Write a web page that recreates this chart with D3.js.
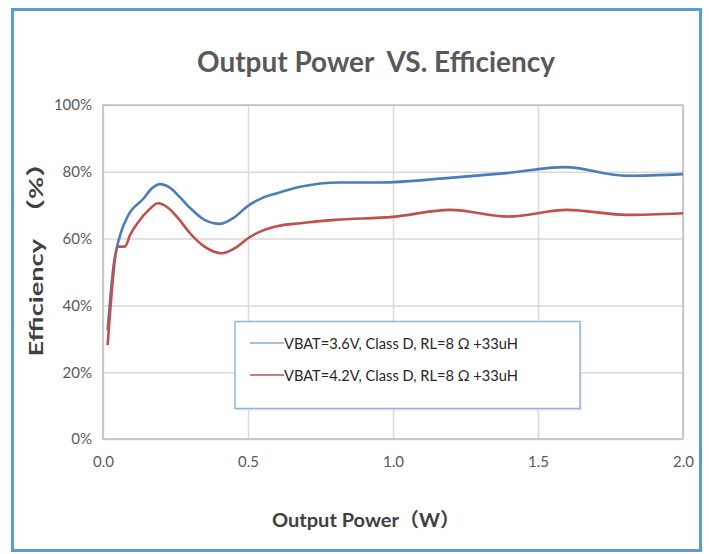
<!DOCTYPE html>
<html>
<head>
<meta charset="utf-8">
<script src="https://cdn.jsdelivr.net/npm/d3@7"></script>
<style>
  body { margin: 0; background: #fff; }
  text { font-family: Lato, "Noto Sans CJK SC", sans-serif; }
</style>
</head>
<body>
<div id="chart"></div>
<script>
// values
var powerBlue = [0.016, 0.036, 0.059, 0.087, 0.14, 0.168, 0.197, 0.23, 0.265, 0.3, 0.35, 0.403, 0.45, 0.5, 0.55, 0.6, 0.68, 0.817, 0.955, 1.185, 1.39, 1.593, 1.806, 2.0];
var effBlue   = [32.6, 51.6, 61.0, 67.0, 72.0, 75.0, 76.3, 75.3, 72.4, 69.2, 65.6, 64.4, 66.2, 69.8, 72.2, 73.6, 75.5, 76.8, 76.8, 78.1, 79.6, 81.4, 78.8, 79.3];

var powerRed = [0.016, 0.053, 0.076, 0.093, 0.122, 0.158, 0.19, 0.222, 0.26, 0.3, 0.35, 0.41, 0.46, 0.5, 0.55, 0.6, 0.68, 0.8, 1.0, 1.197, 1.398, 1.6, 1.806, 2.0];
var effRed   = [28.1, 57.6, 57.6, 61.0, 65.0, 68.6, 70.6, 69.4, 66.0, 61.6, 57.6, 55.6, 57.4, 60.1, 62.4, 63.7, 64.6, 65.6, 66.5, 68.6, 66.6, 68.6, 67.1, 67.6];

var xTicks = [0, 0.5, 1.0, 1.5, 2.0];
var yTicks = [0, 0.2, 0.4, 0.6, 0.8, 1.0];

var seriesNames = ["VBAT=3.6V, Class D, RL=8 Ω +33uH", "VBAT=4.2V, Class D, RL=8 Ω +33uH"];
var seriesColors = ["#4a7ebb", "#c0504d"];

(function() {
  var width = 709, height = 554;

  var svg = d3.select("#chart").append("svg")
    .attr("width", width)
    .attr("height", height);

  // outer frame
  svg.append("rect")
    .attr("x", 12.5).attr("y", 9.5)
    .attr("width", 688).attr("height", 541)
    .attr("fill", "#fff")
    .attr("stroke", "#5b9bd5")
    .attr("stroke-width", 3);

  var x = d3.scaleLinear().domain([0, 2]).range([103, 683]);
  var y = d3.scaleLinear().domain([0, 1]).range([439, 105]);

  // y gridlines + labels
  var yAxis = svg.append("g")
    .attr("transform", "translate(103,0)")
    .call(d3.axisLeft(y).tickValues(yTicks).tickFormat(d3.format(".0%"))
      .tickSize(-580).tickPadding(11));
  yAxis.select(".domain").remove();
  yAxis.selectAll("line").attr("stroke", "#d9d9d9").attr("stroke-width", 1.5);
  yAxis.selectAll("text").attr("fill", "#595959").attr("font-size", 15);

  // x gridlines + labels
  var xAxis = svg.append("g")
    .attr("transform", "translate(0,439)")
    .call(d3.axisBottom(x).tickValues(xTicks).tickFormat(d3.format(".1f"))
      .tickSize(-334).tickPadding(17));
  xAxis.select(".domain").remove();
  xAxis.selectAll("line").attr("stroke", "#d9d9d9").attr("stroke-width", 1.5);
  xAxis.selectAll("text").attr("fill", "#595959").attr("font-size", 15);

  // plot border
  svg.append("rect")
    .attr("x", x(0)).attr("y", y(1))
    .attr("width", x(2) - x(0)).attr("height", y(0) - y(1))
    .attr("fill", "none")
    .attr("stroke", "#bfbfbf")
    .attr("stroke-width", 1.5);

  var line = d3.line()
    .x(function(d) { return x(d[0]); })
    .y(function(d) { return y(d[1] / 100); })
    .curve(d3.curveMonotoneX);

  var series = [d3.zip(powerBlue, effBlue), d3.zip(powerRed, effRed)];

  svg.selectAll(".series")
    .data(series)
    .enter().append("path")
    .attr("class", "series")
    .attr("d", line)
    .attr("fill", "none")
    .attr("stroke", function(d, i) { return seriesColors[i]; })
    .attr("stroke-width", 2.6)
    .attr("stroke-linejoin", "round");

  // legend
  var legend = svg.append("g");
  legend.append("rect")
    .attr("x", 236.5).attr("y", 323.5)
    .attr("width", 345).attr("height", 87)
    .attr("fill", "#d9d9d9").attr("opacity", 0.6);
  legend.append("rect")
    .attr("x", 235).attr("y", 321.5)
    .attr("width", 345).attr("height", 87)
    .attr("fill", "#fff")
    .attr("stroke", "#8eb4e3")
    .attr("stroke-width", 1.5);

  var items = legend.selectAll(".item")
    .data(seriesNames)
    .enter().append("g")
    .attr("class", "item")
    .attr("transform", function(d, i) { return "translate(0," + (343 + i * 32) + ")"; });
  items.append("line")
    .attr("x1", 250).attr("x2", 284)
    .attr("stroke", function(d, i) { return seriesColors[i]; })
    .attr("stroke-width", function(d, i) { return i ? 1.5 : 1; });
  items.append("text")
    .attr("x", 284).attr("y", 5.5)
    .attr("fill", "#262626")
    .attr("font-size", 15.5)
    .attr("textLength", 234)
    .attr("lengthAdjust", "spacingAndGlyphs")
    .text(function(d) { return d; });

  // titles
  svg.append("text")
    .attr("x", 376).attr("y", 72)
    .attr("text-anchor", "middle")
    .attr("fill", "#595959")
    .attr("font-weight", "bold")
    .attr("font-size", 29)
    .attr("textLength", 358)
    .attr("lengthAdjust", "spacingAndGlyphs")
    .text("Output Power\u00a0 VS. Efficiency");

  svg.append("text")
    .attr("x", 366).attr("y", 527)
    .attr("text-anchor", "middle")
    .attr("fill", "#404040")
    .attr("font-weight", "bold")
    .attr("font-size", 19)
    .attr("textLength", 188)
    .attr("lengthAdjust", "spacingAndGlyphs")
    .text("Output Power（W）");

  svg.append("text")
    .attr("transform", "translate(43,253) rotate(-90)")
    .attr("text-anchor", "middle")
    .attr("fill", "#404040")
    .attr("font-weight", "bold")
    .attr("font-size", 19)
    .attr("textLength", 207)
    .attr("lengthAdjust", "spacingAndGlyphs")
    .text("Efficiency　（%）");
})();
</script>
</body>
</html>
